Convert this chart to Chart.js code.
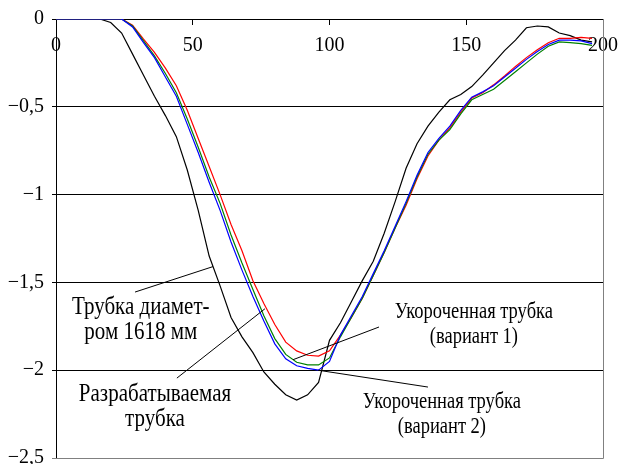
<!DOCTYPE html>
<html>
<head>
<meta charset="utf-8">
<script src="https://cdn.jsdelivr.net/npm/chart.js@4.4.1/dist/chart.umd.min.js"></script>
<style>
  html, body { margin: 0; padding: 0; background: #fff; }
  #box { width: 622px; height: 464px; }
</style>
</head>
<body>
<div id="box"><canvas id="grafico" width="622" height="464"></canvas></div>
<script>
// valores (x a cada 4 unidades)
const xVals = [0, 4, 8, 12, 16, 20, 24, 28, 32, 36, 40, 44, 48, 52, 56, 60, 64, 68, 72, 76,
  80, 84, 88, 92, 96, 100, 104, 108, 112, 116, 120, 124, 128, 132, 136, 140, 144, 148, 152, 156,
  160, 164, 168, 172, 176, 180, 184, 188, 192, 196];

// Трубка диаметром 1618 мм
const blackY = [0, 0, 0, 0, 0, -0.02, -0.08, -0.2, -0.32, -0.44, -0.55, -0.67, -0.86, -1.09, -1.35, -1.52, -1.7, -1.81, -1.9, -2.01,
  -2.08, -2.14, -2.17, -2.14, -2.07, -1.83, -1.73, -1.61, -1.49, -1.38, -1.22, -1.04, -0.85, -0.71, -0.61, -0.53, -0.46, -0.43, -0.385, -0.32,
  -0.25, -0.18, -0.12, -0.05, -0.04, -0.045, -0.08, -0.095, -0.12, -0.13];

// Укороченная трубка (вариант 1)
const redY = [0, 0, 0, 0, 0, 0, 0, -0.035, -0.115, -0.19, -0.28, -0.38, -0.52, -0.68, -0.84, -1.0, -1.17, -1.32, -1.49, -1.62,
  -1.74, -1.84, -1.89, -1.915, -1.92, -1.89, -1.8, -1.7, -1.59, -1.46, -1.33, -1.19, -1.06, -0.91, -0.78, -0.69, -0.62, -0.53, -0.45, -0.42,
  -0.375, -0.325, -0.27, -0.22, -0.175, -0.135, -0.11, -0.11, -0.105, -0.11];

// Укороченная трубка (вариант 2)
const greenY = [0, 0, 0, 0, 0, 0, 0, -0.04, -0.125, -0.21, -0.31, -0.42, -0.57, -0.73, -0.9, -1.05, -1.23, -1.39, -1.54, -1.69,
  -1.82, -1.91, -1.955, -1.97, -1.97, -1.93, -1.81, -1.7, -1.59, -1.46, -1.33, -1.19, -1.05, -0.9, -0.77, -0.69, -0.63, -0.54, -0.46, -0.43,
  -0.4, -0.35, -0.3, -0.25, -0.2, -0.155, -0.13, -0.135, -0.14, -0.15];

// Разрабатываемая трубка
const blueY = [0, 0, 0, 0, 0, 0, 0, -0.045, -0.135, -0.22, -0.33, -0.44, -0.6, -0.76, -0.93, -1.09, -1.27, -1.43, -1.58, -1.72,
  -1.85, -1.935, -1.975, -1.99, -2.0, -1.95, -1.8, -1.69, -1.58, -1.45, -1.32, -1.18, -1.04, -0.89, -0.76, -0.68, -0.61, -0.52, -0.445, -0.415,
  -0.38, -0.33, -0.28, -0.23, -0.185, -0.145, -0.12, -0.12, -0.125, -0.14];

const xTicks = [0, 50, 100, 150, 200];
const yTicks = [0, -0.5, -1, -1.5, -2, -2.5];

// legendas com linhas de chamada (em unidades do gráfico)
const notas = [
  { linhas: ['Трубка диамет-', 'ром 1618 мм'], tam: 21, x: 31, y: -1.64, de: [28.9, -1.555], ate: [57.4, -1.41] },
  { linhas: ['Разрабатываемая', 'трубка'], tam: 21, x: 36.2, y: -2.14, de: [44.2, -2.045], ate: [76.4, -1.65] },
  { linhas: ['Укороченная трубка', '(вариант 1)'], tam: 18.5, x: 152.8, y: -1.67, de: [118.1, -1.754], ate: [86.7, -1.94] },
  { linhas: ['Укороченная трубка', '(вариант 2)'], tam: 18.5, x: 141.1, y: -2.18, de: [136, -2.096], ate: [95.8, -2.0] }
];

const familia = '"Liberation Serif", "Times New Roman", serif';
const fonte = { family: familia, size: 20 };
const esticar = 1.2; // o texto das notas é mais alto que largo no original

function serie(ys) {
  return xVals.map((x, i) => ({ x: x, y: ys[i] }));
}

function rotulo(v) {
  if (v === 0) return '0';
  return (v < 0 ? '−' : '') + String(Math.abs(v)).replace('.', ',');
}

// desenha as notas e a moldura cinza
const extras = {
  id: 'extras',
  beforeDatasetsDraw(chart) {
    const ctx = chart.ctx;
    const a = chart.chartArea;
    ctx.save();
    ctx.strokeStyle = '#808080';
    ctx.lineWidth = 1;
    ctx.beginPath();
    ctx.moveTo(a.right + 0.5, a.top);
    ctx.lineTo(a.right + 0.5, a.bottom + 0.5);
    ctx.lineTo(a.left, a.bottom + 0.5);
    ctx.stroke();
    ctx.restore();
  },
  afterDatasetsDraw(chart) {
    const ctx = chart.ctx;
    const sx = chart.scales.x, sy = chart.scales.y;
    ctx.save();
    ctx.strokeStyle = '#000';
    ctx.lineWidth = 1;
    ctx.fillStyle = '#000';
    ctx.textAlign = 'center';
    ctx.textBaseline = 'middle';
    notas.forEach(n => {
      ctx.beginPath();
      ctx.moveTo(sx.getPixelForValue(n.de[0]), sy.getPixelForValue(n.de[1]));
      ctx.lineTo(sx.getPixelForValue(n.ate[0]), sy.getPixelForValue(n.ate[1]));
      ctx.stroke();
      ctx.font = n.tam + 'px ' + familia;
      const cx = sx.getPixelForValue(n.x);
      let cy = sy.getPixelForValue(n.y);
      n.linhas.forEach(t => {
        ctx.save();
        ctx.translate(cx, cy);
        ctx.scale(1, esticar);
        ctx.fillText(t, 0, 0);
        ctx.restore();
        cy += 25;
      });
    });
    ctx.restore();
  }
};

const dados = {
  datasets: [
    { label: 'Разрабатываемая трубка', data: serie(blueY), borderColor: '#0000ff', order: 1 },
    { label: 'Укороченная трубка (вариант 2)', data: serie(greenY), borderColor: '#008000', order: 2 },
    { label: 'Укороченная трубка (вариант 1)', data: serie(redY), borderColor: '#ff0000', order: 3 },
    { label: 'Трубка диаметром 1618 мм', data: serie(blackY), borderColor: '#000000', order: 4 }
  ]
};

const grafico = new Chart(document.getElementById('grafico'), {
  type: 'line',
  data: dados,
  options: {
    responsive: false,
    animation: false,
    events: [],
    layout: { padding: { top: 19, right: 19, bottom: 6, left: 0 } },
    elements: {
      point: { radius: 0 },
      line: { borderWidth: 1.2, tension: 0 }
    },
    scales: {
      x: {
        type: 'linear',
        min: 0,
        max: 200,
        position: { y: 0 },
        afterBuildTicks: s => { s.ticks = xTicks.map(v => ({ value: v })); },
        afterFit: s => { s.paddingLeft = 0; s.paddingRight = 0; },
        ticks: { font: fonte, color: '#000', padding: 10, maxRotation: 0 },
        grid: { drawOnChartArea: false, tickLength: 5, color: '#000' },
        border: { color: '#000', width: 1 }
      },
      y: {
        type: 'linear',
        min: -2.5,
        max: 0,
        afterBuildTicks: s => { s.ticks = yTicks.map(v => ({ value: v })); },
        afterFit: s => { s.width = 56; s.paddingTop = 0; s.paddingBottom = 0; },
        ticks: { font: fonte, color: '#000', padding: 8, callback: v => rotulo(v) },
        grid: {
          tickLength: 4,
          color: c => (c.tick && c.tick.value === -2.5 ? '#808080' : '#000')
        },
        border: { color: '#000', width: 1 }
      }
    },
    plugins: {
      legend: { display: false },
      tooltip: { enabled: false }
    }
  },
  plugins: [extras]
});
</script>
</body>
</html>
